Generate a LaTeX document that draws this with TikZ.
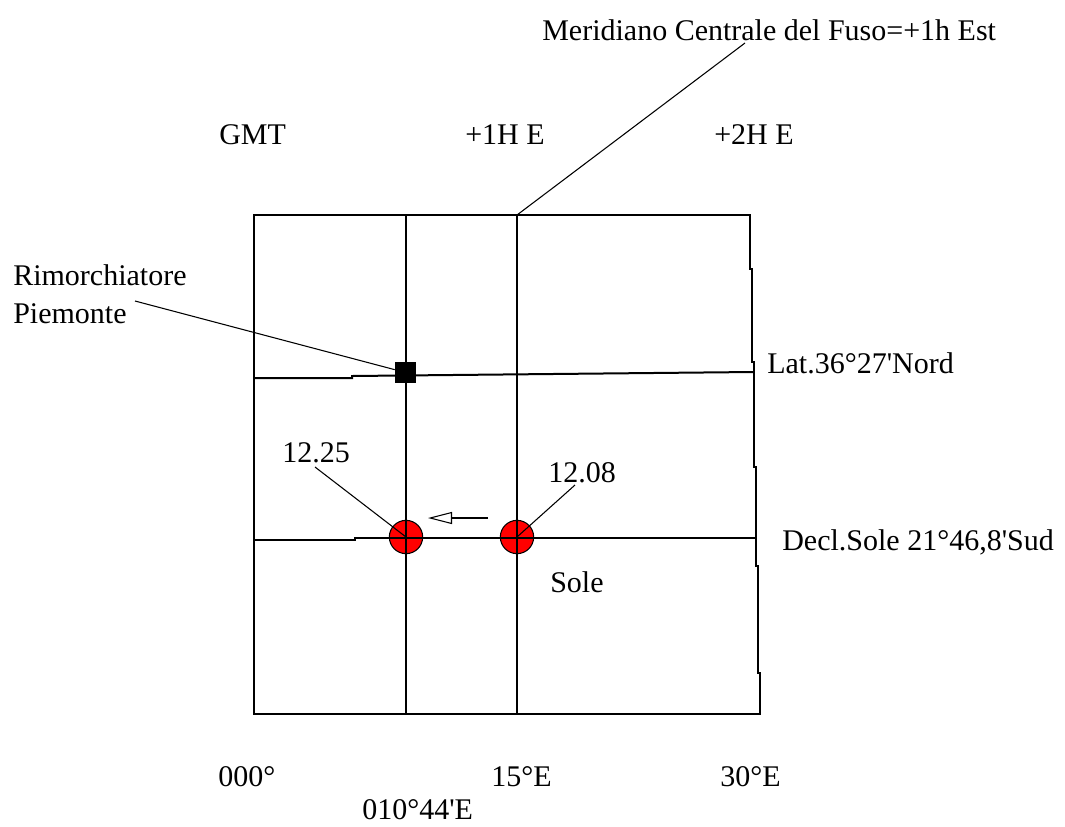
\documentclass[tikz,border=0pt]{standalone}
\usepackage{fontspec}
\setmainfont{Liberation Serif}
\usetikzlibrary{arrows.meta}
\begin{document}
\begin{tikzpicture}[x=0.75pt,y=-0.75pt,
  grid/.style={line width=1.5pt,black,line join=miter},
  leader/.style={line width=0.8pt,black},
  lbl/.style={inner sep=0pt,anchor=base west,font=\fontsize{22.5}{27}\selectfont},
  sun/.style={circle,draw=black,line width=0.8pt,fill=red,minimum size=25pt,inner sep=0pt},
  ship/.style={rectangle,fill=black,minimum size=15.75pt,inner sep=0pt}]
\useasboundingbox (0,0) rectangle (1065,826);
\fill[white] (0,0) rectangle (1065,826);

% suns (drawn under the grid so the crosshair shows)
\node[sun] (sunA) at (406,537) {};
\node[sun] (sunB) at (517,537) {};

% grid
\draw[grid] (254,215) -- (750,215) -- (750,269) -- (752,269) -- (752,362) -- (754,362)
  -- (754,467) -- (756,467) -- (756,566) -- (758,566) -- (758,673) -- (760,673)
  -- (760,714) -- (254,714) -- cycle;
\draw[grid] (406,215) -- (406,714);
\draw[grid] (517,215) -- (517,714);
\draw[grid] (254,378) -- (352,378) -- (352,376) -- (753,372);
\draw[grid] (254,540) -- (355,540) -- (355,538) -- (756,538);

% ship
\node[ship] (ship) at (405.5,372.5) {};

% labels
\node[lbl] (mer) at (542,40) {Meridiano Centrale del Fuso=+1h Est};
\node[lbl] (gmt) at (219,144) {GMT};
\node[lbl] (h1) at (465,144) {+1H E};
\node[lbl] (h2) at (714,144) {+2H E};
\node[lbl] (rim) at (13,285) {Rimorchiatore};
\node[lbl] (pie) at (13,323) {Piemonte};
\node[lbl] (lat) at (767,373) {Lat.36°27\textquotesingle Nord};
\node[lbl] (dec) at (782,550) {Decl.Sole 21°46,8\textquotesingle Sud};
\node[lbl] (t25) at (282,462) {12.25};
\node[lbl] (t08) at (548,482) {12.08};
\node[lbl] (sole) at (550,592) {Sole};
\node[lbl] (d0) at (218,786) {000°};
\node[lbl] (d15) at (491,786) {15°E};
\node[lbl] (d30) at (720,786) {30°E};
\node[lbl] (d10) at (362,819) {010°44\textquotesingle E};

% leaders
\coordinate (merEnd) at (745,43);
\coordinate (gridTop) at (517,215);
\draw[leader] (gridTop) -- (merEnd);
\coordinate (rimEnd) at (135,301);
\draw[leader] (rimEnd) -- (ship);
\coordinate (l25) at (315,467);
\draw[leader] (l25) -- (sunA.center);
\coordinate (l08) at (575,485);
\draw[leader] (l08) -- (sunB.center);

% direction arrow
\coordinate (arrS) at (488,518);
\coordinate (arrE) at (428,518);
\draw[leader,-{Triangle[open,length=18pt,width=9pt]}] (arrS) -- (arrE);
\end{tikzpicture}
\end{document}
